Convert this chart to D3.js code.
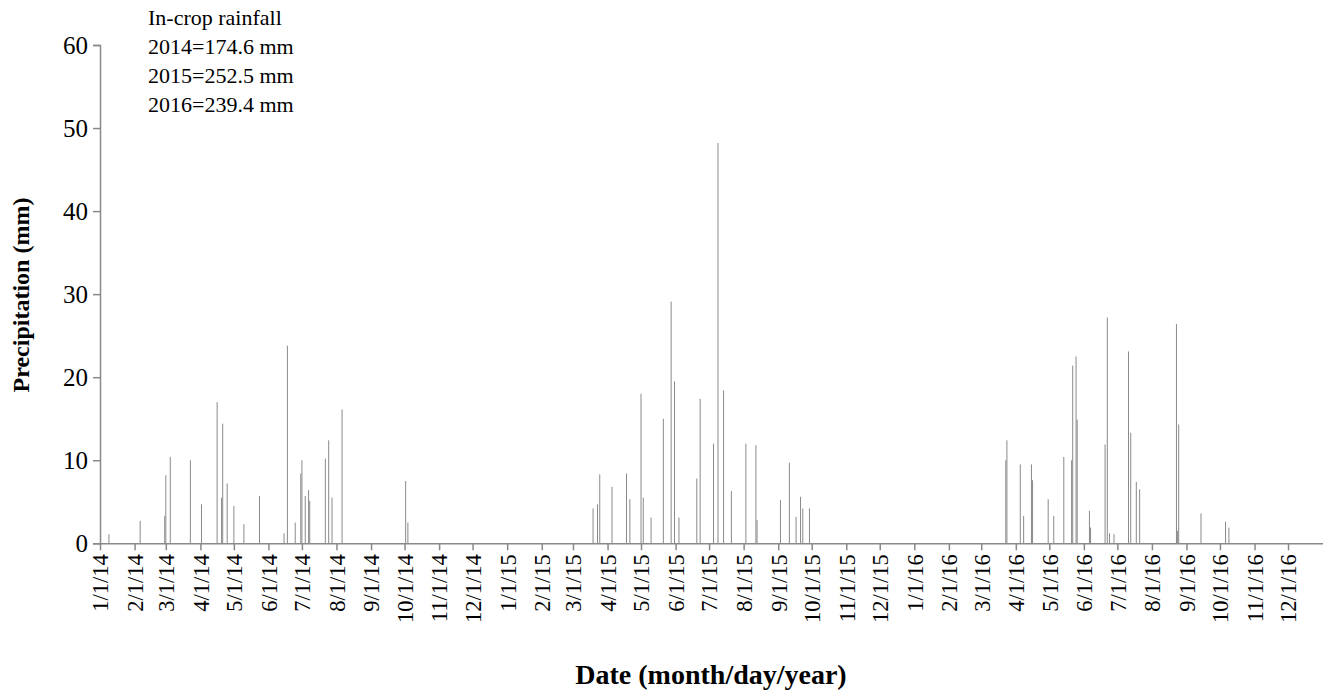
<!DOCTYPE html>
<html><head><meta charset="utf-8">
<script src="https://cdn.jsdelivr.net/npm/d3@7"></script>
<style>body{margin:0;background:#fff}svg{display:block}</style>
</head><body><svg id="c" width="1323" height="693"></svg>
<script>
const dates = [
 "2014-01-09","2014-02-06","2014-02-28","2014-03-01","2014-03-05","2014-03-23","2014-04-02","2014-04-16","2014-04-20","2014-04-21","2014-04-25","2014-05-01","2014-05-10","2014-05-24","2014-06-15","2014-06-18","2014-06-25","2014-06-30","2014-07-01","2014-07-04","2014-07-07","2014-07-08","2014-07-22","2014-07-25","2014-07-28","2014-08-06","2014-10-02","2014-10-04",
 "2015-03-19","2015-03-23","2015-03-25","2015-04-05","2015-04-18","2015-04-21","2015-05-01","2015-05-03","2015-05-10","2015-05-21","2015-05-28","2015-05-31","2015-06-04","2015-06-20","2015-06-23","2015-07-05","2015-07-09","2015-07-14","2015-07-21","2015-08-03","2015-08-12","2015-08-13","2015-09-03","2015-09-11","2015-09-17","2015-09-21","2015-09-23","2015-09-29",
 "2016-03-23","2016-03-24","2016-04-05","2016-04-08","2016-04-15","2016-04-16","2016-04-30","2016-05-05","2016-05-14","2016-05-21","2016-05-22","2016-05-25","2016-05-26","2016-06-06","2016-06-07","2016-06-20","2016-06-22","2016-06-24","2016-06-28","2016-07-11","2016-07-13","2016-07-18","2016-07-21","2016-08-23","2016-08-24","2016-08-25","2016-09-14","2016-10-06","2016-10-09"
];
const precip = [
 1.1,2.7,3.3,8.2,10.4,10.0,4.7,17.0,5.5,14.4,7.2,4.5,2.3,5.7,1.2,23.8,2.5,8.4,10.0,5.7,6.4,5.1,10.2,12.4,5.5,16.1,7.5,2.5,
 4.2,4.7,8.3,6.8,8.4,5.3,18.0,5.5,3.1,15.0,29.1,19.5,3.1,7.8,17.4,12.0,48.2,18.4,6.3,12.0,11.8,2.8,5.2,9.7,3.2,5.6,4.2,4.2,
 10.0,12.4,9.5,3.3,9.5,7.6,5.3,3.3,10.4,10.0,21.4,22.5,14.9,3.9,1.9,11.9,27.2,1.2,1.1,23.1,13.3,7.4,6.5,26.4,1.5,14.3,3.6,2.6,1.9
];
const yTicks = [0,10,20,30,40,50,60];
const noteLines = ["In-crop rainfall","2014=174.6 mm","2015=252.5 mm","2016=239.4 mm"];
const xTitle = "Date (month/day/year)";
const yTitle = "Precipitation (mm)";

const svg = d3.select("#c");
const parse = d3.utcParse("%Y-%m-%d");
const x = d3.scaleUtc().domain([parse("2014-01-01"), parse("2017-01-01")]).range([100, 100 + 1096*1.1155]);
const y = d3.scaleLinear().domain([0,60]).range([543.3, 45]);
const axisColor = "#898989";
const serif = "'Liberation Serif', 'Times New Roman', serif";

// bars
svg.append("g").selectAll("rect").data(dates.map((d,i)=>({d:parse(d),v:precip[i]})))
  .join("rect")
  .attr("x", d => x(d.d) - 0.5)
  .attr("width", 1)
  .attr("y", d => y(d.v))
  .attr("height", d => y(0) - y(d.v))
  .attr("fill", "#8a8a8a");

// y axis
const ya = svg.append("g").attr("transform","translate(100,0)")
  .call(d3.axisLeft(y).tickValues(yTicks).tickSize(7).tickPadding(5).tickFormat(d3.format("d")));
ya.select(".domain").attr("stroke", axisColor).attr("stroke-width",1.5);
ya.selectAll(".tick line").attr("stroke", axisColor).attr("stroke-width",1.5);
ya.selectAll("text").attr("font-family",serif).attr("font-size",25).attr("fill","#000");

// x axis
const months = d3.utcMonth.range(parse("2014-01-01"), parse("2017-01-01"));
const xa = svg.append("g").attr("transform",`translate(0,${y(0)})`)
  .call(d3.axisBottom(x).tickValues(months).tickSize(7).tickSizeOuter(0).tickFormat(d3.utcFormat("%-m/%-d/%y")));
xa.select(".domain").attr("stroke", axisColor).attr("stroke-width",1.5);
xa.selectAll(".tick line").attr("stroke", axisColor).attr("stroke-width",1.5);
xa.selectAll("text")
  .attr("font-family",serif).attr("font-size",22.5).attr("fill","#000")
  .attr("transform","rotate(-90)").attr("text-anchor","end")
  .attr("x",-11).attr("y",0).attr("dy","0.35em");

// axis titles
svg.append("text").attr("x",711).attr("y",684).attr("text-anchor","middle")
  .attr("font-family",serif).attr("font-weight","bold").attr("font-size",28).text(xTitle);
svg.append("text").attr("transform","translate(29,295) rotate(-90)").attr("text-anchor","middle")
  .attr("font-family",serif).attr("font-weight","bold").attr("font-size",24).text(yTitle);

// note
svg.append("g").selectAll("text").data(noteLines).join("text")
  .attr("x",148).attr("y",(d,i)=>25 + i*29)
  .attr("font-family",serif).attr("font-size",22).attr("fill","#000")
  .text(d=>d);
</script></body></html>
